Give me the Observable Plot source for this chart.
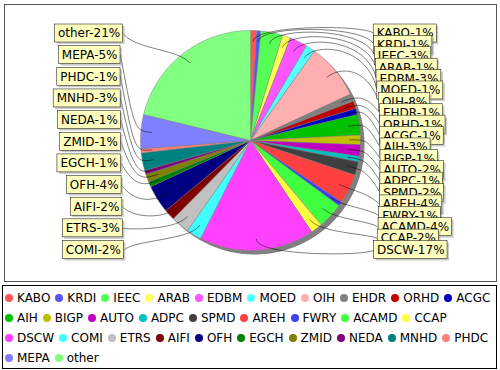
<!DOCTYPE html>
<html><head><meta charset="utf-8">
<script src="https://cdn.jsdelivr.net/npm/d3@7"></script>
<script src="https://cdn.jsdelivr.net/npm/@observablehq/plot@0.6"></script>
<style>
body{margin:0;background:#fff;font-family:"DejaVu Sans",sans-serif;}
#wrap{position:relative;width:500px;height:370px;overflow:hidden;}
#chart{position:absolute;left:0;top:0;}
#legend{position:absolute;left:2px;top:285px;width:495px;height:84px;box-sizing:border-box;border:1px solid #000;display:flex;flex-wrap:wrap;align-content:flex-start;column-gap:5px;padding:2px 0 0 2px;font-size:12px;color:#000;}
.item{display:flex;align-items:center;height:20px;white-space:nowrap;}
.sw{width:8px;height:8px;border-radius:50%;margin-right:4px;flex:none;}
</style></head><body>
<div id="wrap"><div id="chart"></div><div id="legend"></div></div>
<script>
const categories = ["KABO","KRDI","IEEC","ARAB","EDBM","MOED","OIH","EHDR","ORHD","ACGC",
  "AIH","BIGP","AUTO","ADPC","SPMD","AREH","FWRY","ACAMD","CCAP","DSCW",
  "COMI","ETRS","AIFI","OFH","EGCH","ZMID","NEDA","MNHD","PHDC","MEPA","other"];
const values = [0.9,0.6,3.2,1.2,2.6,1.4,8.2,1.1,1.1,0.9,
  3.0,1.4,1.7,0.8,2.0,4.4,0.6,3.8,1.7,16.9,
  2.2,2.7,1.6,4.1,0.8,1.1,0.6,2.6,0.6,5.0,21.2];
const colors = ["#FF5555","#5555FF","#55FF55","#FFFF55","#FF55FF","#55FFFF","#FFAFAF","#808080","#C00000","#0000C0",
  "#00C000","#C0C000","#C000C0","#00C0C0","#404040","#FF4040","#4040FF","#40FF40","#FFFF40","#FF40FF",
  "#40FFFF","#C0C0C0","#800000","#000080","#008000","#808000","#800080","#008080","#FF8080","#8080FF","#80FF80"];

const data = categories.map((key, i) => ({key, value: values[i]}));
const total = d3.sum(values);

// layout
const cx = 250, cy = 140, R = 110;
const linkR = 116, linkPct = 0.9, halfGap = 7;
const labelTop = 33, labelBot = 249.5, boxH = 18, pad = 3;

const arcs = d3.pie().sort(null).value(d => d.value)(data);
const pt = (a, r) => ({x: cx + r * Math.sin(a), y: cy - r * Math.cos(a)});

const slicePts = arcs.flatMap(a => {
  const pts = [{key: a.data.key, ...pt(0, 0)}];
  const n = Math.max(2, Math.ceil((a.endAngle - a.startAngle) / 0.01));
  for (let k = 0; k <= n; k++) {
    const t = a.startAngle + (a.endAngle - a.startAngle) * k / n;
    pts.push({key: a.data.key, ...pt(t, R)});
  }
  return pts;
});
const shadowPts = d3.range(0, 361).map(d => {
  const p = pt(d * Math.PI / 180, R);
  return {x: p.x + 4, y: p.y + 4};
});

const ctx = document.createElement("canvas").getContext("2d");
ctx.font = "12px 'DejaVu Sans'";

const recs = arcs.map(a => {
  const mid = (a.startAngle + a.endAngle) / 2;
  const label = `${a.data.key}-${Math.round(a.data.value / total * 100)}%`;
  return {key: a.data.key, mid, label, right: mid < Math.PI,
    baseY: cy - Math.cos(mid) * linkR, w: ctx.measureText(label).width + 2 * pad};
});
const rightRecs = recs.filter(r => r.right).sort((a, b) => a.baseY - b.baseY);
const leftRecs = recs.filter(r => !r.right).sort((a, b) => a.baseY - b.baseY);
for (const list of [rightRecs, leftRecs]) {
  list.forEach((r, i) => {
    r.ty = labelTop + i * (labelBot - labelTop) / (list.length - 1);
    const s = Math.sin(r.mid);
    if (r.right) {
      r.anchorX = cx + linkR;
      r.tx = r.anchorX + halfGap + halfGap * s;
      r.bx1 = r.tx; r.bx2 = r.tx + r.w;
    } else {
      r.anchorX = cx - linkR;
      r.tx = r.anchorX - halfGap - halfGap * (-s);
      r.bx2 = r.tx; r.bx1 = r.tx - r.w;
    }
    r.by1 = r.ty - boxH / 2; r.by2 = r.ty + boxH / 2;
    r.textX = r.bx1 + pad;
  });
}
const labelRecs = [...rightRecs, ...leftRecs];

const linkPts = labelRecs.flatMap(r => {
  const e = pt(r.mid, linkR), l = pt(r.mid, R * linkPct);
  const P = [[r.tx, r.ty], [r.anchorX, e.y], [e.x, e.y], [l.x, l.y]];
  return d3.range(0, 41).map(k => {
    const t = k / 40, u = 1 - t;
    const b = [u*u*u, 3*u*u*t, 3*u*t*t, t*t*t];
    return {key: r.key, x: d3.sum(P, (p, j) => b[j] * p[0]), y: d3.sum(P, (p, j) => b[j] * p[1])};
  });
});

const chart = Plot.plot({
  width: 500, height: 284,
  marginLeft: 4, marginRight: 4, marginTop: 4, marginBottom: 3,
  x: {domain: [4, 496], range: [4, 496], axis: null},
  y: {domain: [4, 281], range: [4, 281], axis: null},
  color: {domain: categories, range: colors},
  style: {fontFamily: "DejaVu Sans", fontSize: "12px", background: "white", color: "black"},
  marks: [
    Plot.frame({stroke: "#555"}),
    Plot.line(shadowPts, {x: "x", y: "y", fill: "#808080", stroke: "none", curve: "linear-closed"}),
    Plot.line(slicePts, {x: "x", y: "y", z: "key", fill: "key", stroke: "#808080", strokeWidth: 0.5, curve: "linear-closed"}),
    Plot.line(linkPts, {x: "x", y: "y", z: "key", stroke: "#000", strokeWidth: 0.5, curve: "linear"}),
    ...labelRecs.flatMap(r => [
      Plot.rect([r], {x1: d => d.bx1 + 2, x2: d => d.bx2 + 2, y1: d => d.by1 + 2, y2: d => d.by2 + 2, fill: "#979797", fillOpacity: 0.5}),
      Plot.rect([r], {x1: "bx1", x2: "bx2", y1: "by1", y2: "by2", fill: "#FFFFC0", stroke: "#000", strokeWidth: 0.5}),
      Plot.text([r], {x: "textX", y: "ty", text: "label", textAnchor: "start", fill: "black", fontSize: 12})
    ])
  ]
});
document.getElementById("chart").appendChild(chart);

const legend = document.getElementById("legend");
categories.forEach((c, i) => {
  const it = document.createElement("div");
  it.className = "item";
  it.innerHTML = `<span class="sw" style="background:${colors[i]}"></span><span>${c}</span>`;
  legend.appendChild(it);
});
</script>
</body></html>
